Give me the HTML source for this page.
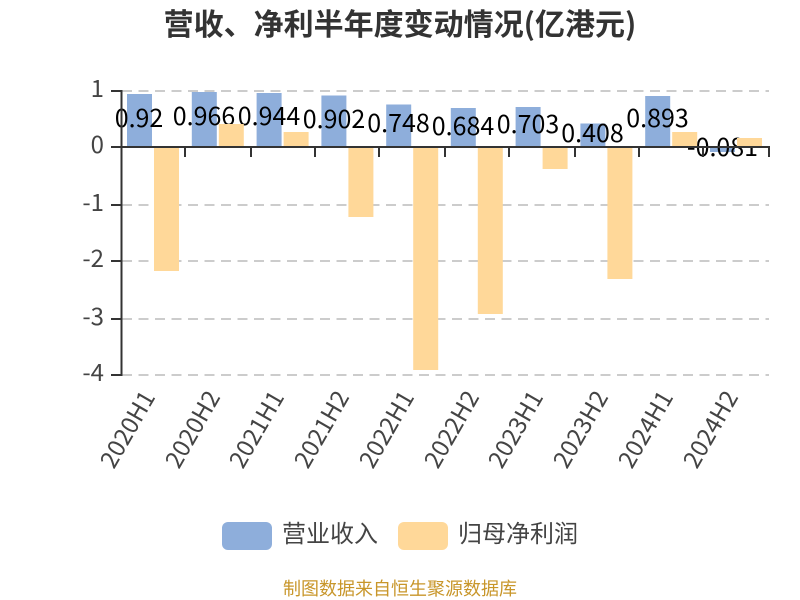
<!DOCTYPE html>
<html><head><meta charset="utf-8"><style>
html,body{margin:0;padding:0;background:#fff}
svg{display:block}
text{font-family:"Noto Sans CJK SC","Liberation Sans",sans-serif}
.y{font-size:24px;fill:#444;text-anchor:end}
.c{font-size:24px;fill:#444;text-anchor:end}
.v{font-size:25px;fill:#000;text-anchor:middle}
.l{font-size:24px;fill:#444}
</style></head><body>
<svg width="800" height="600" viewBox="0 0 800 600" xmlns="http://www.w3.org/2000/svg">
<text x="400" y="35" text-anchor="middle" style="font-size:30px;font-weight:700;fill:#333">营收、净利半年度变动情况(亿港元)</text>
<g stroke="#ccc" stroke-width="2" stroke-dasharray="10 6.5">
<line x1="122" x2="769" y1="91" y2="91"/><line x1="122" x2="769" y1="205" y2="205"/><line x1="122" x2="769" y1="261" y2="261"/><line x1="122" x2="769" y1="319" y2="319"/><line x1="122" x2="769" y1="375" y2="375"/>
</g>
<g fill="#8eaedb">
<rect x="127" y="94" width="25" height="53"/><rect x="191.800" y="92" width="25" height="55"/><rect x="256.600" y="93" width="25" height="54"/><rect x="321.400" y="95.500" width="25" height="51.500"/><rect x="386.200" y="104.500" width="25" height="42.500"/><rect x="450.800" y="108" width="25" height="39"/><rect x="515.600" y="107" width="25" height="40"/><rect x="580.400" y="123.500" width="25" height="23.500"/><rect x="645.200" y="96" width="25" height="51"/><rect x="710" y="147" width="25" height="5"/>
</g>
<text class="v" x="139" y="127">0.92</text><text class="v" x="204" y="125">0.966</text><text class="v" x="269" y="125">0.944</text><text class="v" x="334" y="128">0.902</text><text class="v" x="398.500" y="132">0.748</text><text class="v" x="463" y="135">0.684</text><text class="v" x="528" y="133">0.703</text><text class="v" x="592.500" y="142">0.408</text><text class="v" x="657.500" y="127">0.893</text><text class="v" x="722.500" y="156">-0.081</text>
<g fill="#ffd899">
<rect x="154" y="147" width="25" height="124"/><rect x="218.800" y="124" width="25" height="23"/><rect x="283.600" y="132" width="25" height="15"/><rect x="348.400" y="147" width="25" height="70"/><rect x="413.200" y="147" width="25" height="223"/><rect x="477.800" y="147" width="25" height="167"/><rect x="542.600" y="147" width="25" height="22"/><rect x="607.400" y="147" width="25" height="132"/><rect x="672.200" y="132" width="25" height="15"/><rect x="737" y="138" width="25" height="9"/>
</g>
<g stroke="#333" stroke-width="2" fill="none">
<line x1="121.500" y1="90" x2="121.500" y2="376"/>
<line x1="111" y1="91" x2="121" y2="91"/><line x1="111" y1="147" x2="121" y2="147"/><line x1="111" y1="205" x2="121" y2="205"/><line x1="111" y1="261" x2="121" y2="261"/><line x1="111" y1="319" x2="121" y2="319"/><line x1="111" y1="375" x2="121" y2="375"/>
<line x1="121" y1="147" x2="770" y2="147"/>
<path d="M185 147V157M251 147V157M315 147V157M379 147V157M445 147V157M509 147V157M575 147V157M639 147V157M703 147V157M769 147V157"/>
</g>
<text class="y" x="104" y="97">1</text><text class="y" x="104" y="153">0</text><text class="y" x="104" y="211">-1</text><text class="y" x="104" y="267">-2</text><text class="y" x="104" y="325">-3</text><text class="y" x="104" y="381">-4</text>
<text class="c" transform="translate(149,393) rotate(-60)" dy="8">2020H1</text>
<text class="c" transform="translate(214,393) rotate(-60)" dy="8">2020H2</text>
<text class="c" transform="translate(278,393) rotate(-60)" dy="8">2021H1</text>
<text class="c" transform="translate(343,393) rotate(-60)" dy="8">2021H2</text>
<text class="c" transform="translate(408,393) rotate(-60)" dy="8">2022H1</text>
<text class="c" transform="translate(473,393) rotate(-60)" dy="8">2022H2</text>
<text class="c" transform="translate(537,393) rotate(-60)" dy="8">2023H1</text>
<text class="c" transform="translate(602,393) rotate(-60)" dy="8">2023H2</text>
<text class="c" transform="translate(667,393) rotate(-60)" dy="8">2024H1</text>
<text class="c" transform="translate(732,393) rotate(-60)" dy="8">2024H2</text>
<rect x="222" y="522" width="50" height="28" rx="6" fill="#8eaedb"/>
<text class="l" x="282" y="542">营业收入</text>
<rect x="398" y="522" width="50" height="28" rx="6" fill="#ffd899"/>
<text class="l" x="458" y="542">归母净利润</text>
<text x="400" y="595" text-anchor="middle" style="font-size:18px;fill:#c8962a">制图数据来自恒生聚源数据库</text>
</svg>
</body></html>
